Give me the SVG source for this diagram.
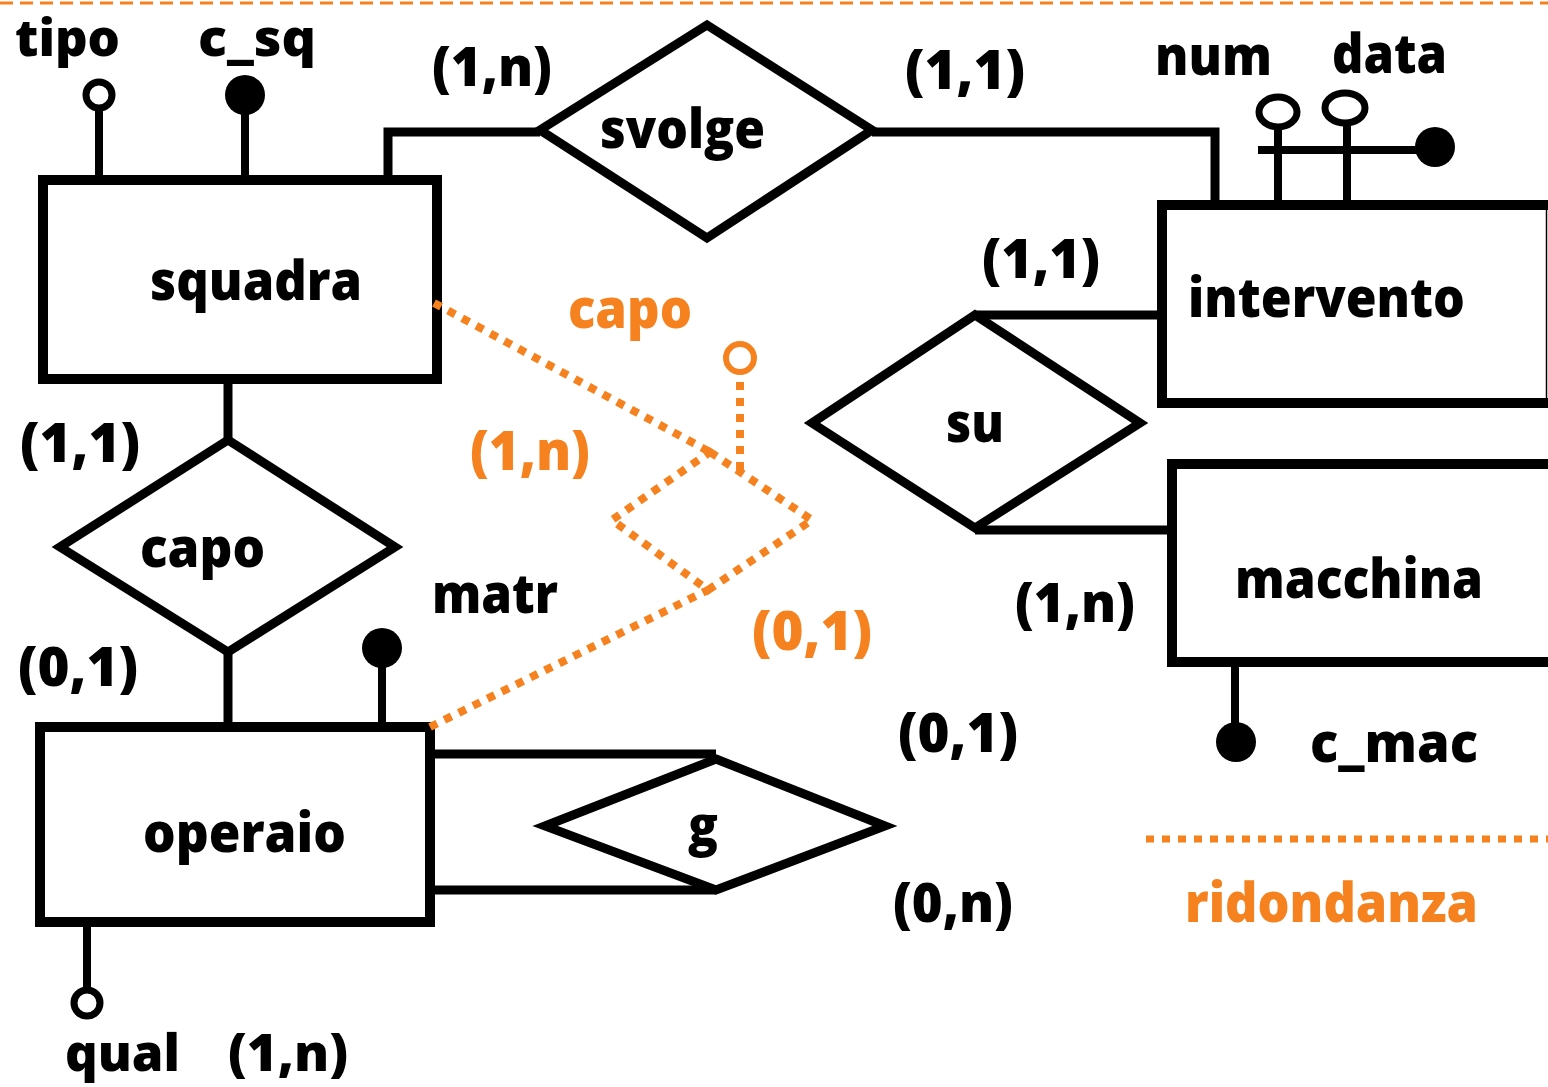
<svg xmlns="http://www.w3.org/2000/svg" width="1548" height="1087" viewBox="0 0 1548 1087">
<style>
text{font-family:"Open Sans","Noto Sans","DejaVu Sans",sans-serif;font-weight:800;font-size:54px;fill:#000}
text.o{fill:#F5821F}
text.e{font-size:51px}
.box{fill:#fff;stroke:#000;stroke-width:10}
.rel{fill:#fff;stroke:#000;stroke-width:9;stroke-linejoin:miter}
.ln{fill:none;stroke:#000;stroke-width:9}
.at{fill:none;stroke:#000;stroke-width:8}
.key{fill:#000;stroke:none}
.opn{fill:#fff;stroke:#000;stroke-width:7}
.red{fill:none;stroke:#F5821F;stroke-width:8;stroke-dasharray:8 8}
</style>
<rect x="0" y="0" width="1548" height="1087" fill="#fff"/>
<line x1="0" y1="3" x2="1548" y2="3" stroke="#F5821F" stroke-width="3" stroke-dasharray="13 7"/>

<g id="connectors">
<polyline class="ln" points="388,178 388,132 540,132"/>
<polyline class="ln" points="872,132 1215,132 1215,205"/>
<line class="ln" x1="975" y1="315" x2="1162" y2="315"/>
<line class="ln" x1="975" y1="530" x2="1172" y2="530"/>
<line class="ln" x1="228" y1="380" x2="228" y2="440"/>
<line class="ln" x1="228" y1="652" x2="228" y2="727"/>
<line class="ln" x1="430" y1="754" x2="716" y2="754"/>
<line class="ln" x1="430" y1="890" x2="716" y2="890"/>
</g>

<g id="squadra">
<rect class="box" x="43" y="180" width="394" height="199"/>
<text x="150" y="300" textLength="212" lengthAdjust="spacingAndGlyphs">squadra</text>
<line class="at" x1="99" y1="108" x2="99" y2="180"/>
<circle class="opn" cx="99" cy="95" r="13"/>
<text class="e" x="15" y="56" textLength="105" lengthAdjust="spacingAndGlyphs">tipo</text>
<line class="at" x1="245" y1="110" x2="245" y2="180"/>
<circle class="key" cx="245" cy="95" r="20"/>
<text class="e" x="198" y="56" textLength="118" lengthAdjust="spacingAndGlyphs">c_sq</text>
</g>

<g id="svolge">
<polygon class="rel" points="540,130 707,25 872,130 707,238"/>
<text x="600" y="148" textLength="165" lengthAdjust="spacingAndGlyphs">svolge</text>
<text x="432" y="86" textLength="120" lengthAdjust="spacingAndGlyphs">(1,n)</text>
<text x="905" y="89" textLength="120" lengthAdjust="spacingAndGlyphs">(1,1)</text>
</g>

<g id="intervento">
<rect class="box" x="1162" y="205" width="400" height="198"/>
<line x1="1546.5" y1="205" x2="1546.5" y2="403" stroke="#000" stroke-width="1.5"/>
<text x="1188" y="317" textLength="277" lengthAdjust="spacingAndGlyphs">intervento</text>
<line class="at" x1="1278" y1="126" x2="1278" y2="205"/>
<line class="at" x1="1347" y1="122" x2="1347" y2="205"/>
<line class="at" x1="1258" y1="150" x2="1430" y2="150"/>
<ellipse class="opn" cx="1278" cy="112" rx="19" ry="15"/>
<ellipse class="opn" cx="1345" cy="108" rx="20" ry="15"/>
<circle class="key" cx="1435" cy="147" r="20"/>
<text x="1155" y="75" textLength="117" lengthAdjust="spacingAndGlyphs">num</text>
<text x="1332" y="73" textLength="115" lengthAdjust="spacingAndGlyphs">data</text>
</g>

<g id="su">
<polygon class="rel" points="975,315 1140,423 975,528 812,423"/>
<text x="946" y="442" textLength="58" lengthAdjust="spacingAndGlyphs">su</text>
<text x="982" y="278" textLength="118" lengthAdjust="spacingAndGlyphs">(1,1)</text>
<text x="1015" y="622" textLength="120" lengthAdjust="spacingAndGlyphs">(1,n)</text>
</g>

<g id="macchina">
<rect class="box" x="1172" y="464" width="400" height="198"/>
<text x="1235" y="598" textLength="248" lengthAdjust="spacingAndGlyphs">macchina</text>
<line class="at" x1="1235" y1="662" x2="1235" y2="730"/>
<circle class="key" cx="1236" cy="742" r="20"/>
<text x="1310" y="762" textLength="168" lengthAdjust="spacingAndGlyphs">c_mac</text>
</g>

<g id="capo">
<polygon class="rel" points="228,440 395,547 228,652 60,547"/>
<text x="140" y="567" textLength="125" lengthAdjust="spacingAndGlyphs">capo</text>
<text x="20" y="462" textLength="120" lengthAdjust="spacingAndGlyphs">(1,1)</text>
<text x="18" y="686" textLength="120" lengthAdjust="spacingAndGlyphs">(0,1)</text>
</g>

<g id="operaio">
<rect class="box" x="40" y="727" width="390" height="195"/>
<text x="143" y="852" textLength="203" lengthAdjust="spacingAndGlyphs">operaio</text>
<line class="at" x1="382" y1="660" x2="382" y2="727"/>
<circle class="key" cx="382" cy="648" r="20"/>
<text x="432" y="613" textLength="126" lengthAdjust="spacingAndGlyphs">matr</text>
<line class="at" x1="87" y1="922" x2="87" y2="990"/>
<circle class="opn" cx="87" cy="1003" r="13"/>
<text class="e" x="65" y="1071" textLength="115" lengthAdjust="spacingAndGlyphs">qual</text>
<text class="e" x="228" y="1071" textLength="120" lengthAdjust="spacingAndGlyphs">(1,n)</text>
</g>

<g id="g">
<polygon class="rel" points="716,759 885,826 716,890 545,826"/>
<text x="688" y="845" textLength="30" lengthAdjust="spacingAndGlyphs">g</text>
<text x="898" y="752" textLength="120" lengthAdjust="spacingAndGlyphs">(0,1)</text>
<text x="893" y="922" textLength="120" lengthAdjust="spacingAndGlyphs">(0,n)</text>
</g>

<g id="capo-ridondanza">
<line class="red" x1="434" y1="303" x2="710" y2="452"/>
<line class="red" x1="430" y1="727" x2="708" y2="590"/>
<polygon class="red" points="710,452 812,520 708,590 612,520"/>
<line class="red" x1="740" y1="470" x2="740" y2="373"/>
<circle cx="740" cy="358" r="14" fill="#fff" stroke="#F5821F" stroke-width="6"/>
<text class="o" x="568" y="328" textLength="124" lengthAdjust="spacingAndGlyphs">capo</text>
<text class="o" x="470" y="470" textLength="120" lengthAdjust="spacingAndGlyphs">(1,n)</text>
<text class="o" x="752" y="650" textLength="120" lengthAdjust="spacingAndGlyphs">(0,1)</text>
</g>

<g id="legenda">
<line x1="1146" y1="839" x2="1548" y2="839" stroke="#F5821F" stroke-width="7" stroke-dasharray="8 8"/>
<text class="o" x="1185" y="922" textLength="293" lengthAdjust="spacingAndGlyphs">ridondanza</text>
</g>
</svg>
